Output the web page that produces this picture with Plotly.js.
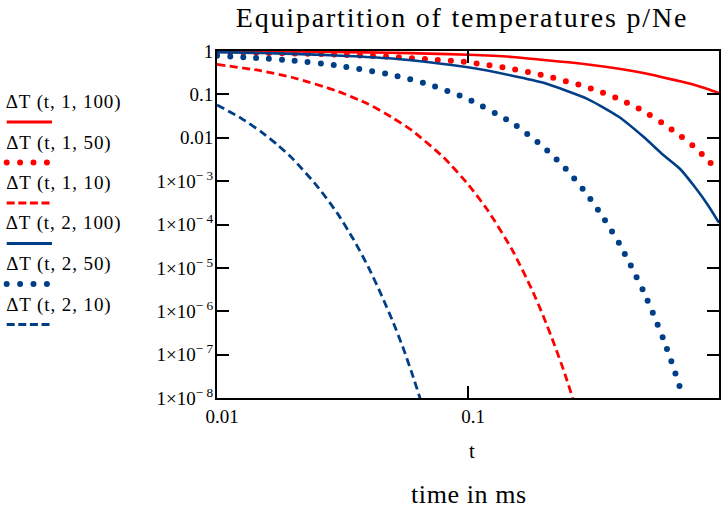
<!DOCTYPE html>
<html>
<head>
<meta charset="utf-8">
<script src="https://cdn.plot.ly/plotly-3.0.1.min.js"></script>
<style>
html, body { margin: 0; padding: 0; background: #fff; }
#chart { width: 723px; height: 513px; }
#chart .gtitle { letter-spacing: 1.8px; }
#chart .annotation .annotation-text { letter-spacing: 0.9px; }
#chart .annotation[data-index="7"] .annotation-text { letter-spacing: 0.6px; }
#chart .annotation[data-index="6"] .annotation-text { letter-spacing: 0px; }
</style>
</head>
<body>
<div id="chart"></div>
<script>
// ---- data ----
const seriesNames = ["ΔT (t, 1, 100)", "ΔT (t, 1, 50)", "ΔT (t, 1, 10)",
                     "ΔT (t, 2, 100)", "ΔT (t, 2, 50)", "ΔT (t, 2, 10)"];

const tLong = [0.01, 0.015, 0.02, 0.03, 0.05, 0.07, 0.1, 0.15, 0.2, 0.3, 0.4, 0.5, 0.6, 0.7, 0.8, 0.9, 1.0];

const dT_1_100 = [0.99, 0.98, 0.97, 0.95, 0.91, 0.87, 0.82, 0.73, 0.62, 0.49, 0.39, 0.31, 0.245, 0.2, 0.165, 0.133, 0.107];
const dT_1_50  = [0.94, 0.91, 0.88, 0.83, 0.73, 0.64, 0.55, 0.385, 0.275, 0.145, 0.078, 0.041, 0.021, 0.0113, 0.006, 0.0031, 0.0016];
const dT_2_100 = [0.94, 0.90, 0.86, 0.79, 0.67, 0.55, 0.42, 0.27, 0.185, 0.078, 0.03, 0.0105, 0.004, 0.0019, 7.4e-4, 2.9e-4, 1.1e-4];

const t_1_10  = [0.01, 0.015, 0.02, 0.03, 0.04, 0.05, 0.06, 0.08, 0.1, 0.12, 0.15, 0.18, 0.2, 0.22, 0.24, 0.262];
const dT_1_10 = [0.49, 0.35, 0.245, 0.12, 0.06, 0.029, 0.0145, 3.5e-3, 8.5e-4, 2.1e-4, 2.6e-5, 3.1e-6, 7.5e-7, 1.8e-7, 4.5e-8, 9.5e-9];

const t_2_50  = [0.01, 0.015, 0.02, 0.03, 0.05, 0.07, 0.1, 0.15, 0.2, 0.25, 0.3, 0.35, 0.4, 0.45, 0.5, 0.55, 0.6, 0.65, 0.7, 0.72];
const dT_2_50 = [0.775, 0.68, 0.60, 0.465, 0.28, 0.168, 0.078, 0.022, 6.1e-3, 1.7e-3, 4.7e-4, 1.3e-4, 3.7e-5, 1.0e-5, 2.9e-6, 8.1e-7, 2.3e-7, 6.3e-8, 1.7e-8, 1.0e-8];

const t_2_10  = [0.01, 0.0125, 0.015, 0.0175, 0.02, 0.025, 0.03, 0.035, 0.04, 0.045, 0.05, 0.055, 0.06, 0.065];
const dT_2_10 = [0.057, 0.028, 0.0137, 6.7e-3, 3.3e-3, 7.8e-4, 1.9e-4, 4.5e-5, 1.07e-5, 2.5e-6, 6.1e-7, 1.5e-7, 3.5e-8, 8.4e-9];

const xTickVals = [0.01, 0.1, 1];
const xTickText = ["0.01", "0.1", "1"];
const yTickVals = [1, 0.1, 0.01, 1e-3, 1e-4, 1e-5, 1e-6, 1e-7, 1e-8];
const yTickText = ["1", "0.1", "0.01", "1×10<sup>− 3</sup>", "1×10<sup>− 4</sup>", "1×10<sup>− 5</sup>",
                   "1×10<sup>− 6</sup>", "1×10<sup>− 7</sup>", "1×10<sup>− 8</sup>"];

// ---- styles ----
const RED = "#ff0000";
const BLUE = "#003f87";
const FONT = "Liberation Serif, Times New Roman, serif";
const DOT = "0px,13px";
const DASH = "8px,4.5px";

const styles = [
  {color: RED,  width: 2.6, dash: "solid"},
  {color: RED,  width: 6,   dash: DOT},
  {color: RED,  width: 2.8, dash: DASH},
  {color: BLUE, width: 2.6, dash: "solid"},
  {color: BLUE, width: 6,   dash: DOT},
  {color: BLUE, width: 2.8, dash: DASH}
];

const xs = [tLong, tLong, t_1_10, tLong, t_2_50, t_2_10];
const ys = [dT_1_100, dT_1_50, dT_1_10, dT_2_100, dT_2_50, dT_2_10];

const traces = xs.map((x, i) => ({
  type: "scatter", mode: "lines", x: x, y: ys[i], name: seriesNames[i],
  line: {color: styles[i].color, width: styles[i].width, dash: styles[i].dash, shape: "spline", smoothing: 0.6},
  showlegend: false, hoverinfo: "skip"
}));

// plot area geometry (pixels)
const W = 723, H = 513;
const M = {l: 217, r: 4, t: 51, b: 115};
const PW = W - M.l - M.r, PH = H - M.t - M.b;
const px = v => (v - M.l) / PW;
const py = v => (H - M.b - v) / PH;

// left legend (text above a line sample)
const annotations = [];
const shapes = [];
const legendTop = 102, legendStep = 40.5;
seriesNames.forEach((name, i) => {
  const ty = legendTop + i * legendStep;
  annotations.push({
    xref: "paper", yref: "paper", x: px(10), y: py(ty), xanchor: "left", yanchor: "middle",
    text: name, showarrow: false, font: {family: FONT, size: 19, color: "#000"}
  });
  const ly = ty + 20;
  shapes.push({
    type: "line", xref: "paper", yref: "paper", x0: px(6.7), x1: px(52), y0: py(ly), y1: py(ly),
    line: {color: styles[i].color, width: styles[i].dash === DOT ? 6 : 2.8,
           dash: styles[i].dash === DOT ? "0px,13.4px" : (styles[i].dash === DASH ? "8px,3.6px" : "solid")}
  });
});

annotations.push({
  xref: "paper", yref: "paper", x: px(472), y: py(451), xanchor: "center", yanchor: "middle",
  text: "t", showarrow: false, font: {family: FONT, size: 21, color: "#000"}
});
annotations.push({
  xref: "paper", yref: "paper", x: px(469), y: py(494), xanchor: "center", yanchor: "middle",
  text: "time in ms", showarrow: false, font: {family: FONT, size: 26, color: "#000"}
});

const axisCommon = {
  type: "log", showgrid: false, zeroline: false,
  showline: true, linecolor: "#000", linewidth: 2, mirror: "ticks",
  ticks: "inside", ticklen: 12, tickwidth: 2, tickcolor: "#000",
  tickfont: {family: FONT, size: 19, color: "#000"}
};

const layout = {
  width: W, height: H,
  margin: M,
  paper_bgcolor: "#fff", plot_bgcolor: "#fff",
  font: {family: FONT, color: "#000"},
  title: {text: "Equipartition of temperatures p/Ne", font: {family: FONT, size: 28, color: "#000"},
          xref: "container", yref: "container", x: 462 / W, xanchor: "center", y: 1 - 17 / H, yanchor: "middle"},
  xaxis: Object.assign({}, axisCommon, {range: [-2, 0], tickvals: xTickVals, ticktext: xTickText,
          ticklabelshift: 5}),
  yaxis: Object.assign({}, axisCommon, {range: [-8, 0], tickvals: yTickVals, ticktext: yTickText,
          ticklabelstandoff: -2}),
  annotations: annotations,
  shapes: shapes,
  showlegend: false
};

Plotly.newPlot("chart", traces, layout, {displayModeBar: false, staticPlot: true}).then(gd => {
  const dotted = [1, 4];
  const tr = gd.querySelectorAll(".scatterlayer .trace");
  dotted.forEach(i => {
    if (tr[i]) tr[i].querySelectorAll("path.js-line").forEach(p => p.style.strokeLinecap = "round");
  });
  gd.querySelectorAll(".shapelayer path").forEach(p => {
    const da = p.style.strokeDasharray || "";
    if (da.indexOf("0px") === 0) p.style.strokeLinecap = "round";
  });
});
</script>
</body>
</html>
